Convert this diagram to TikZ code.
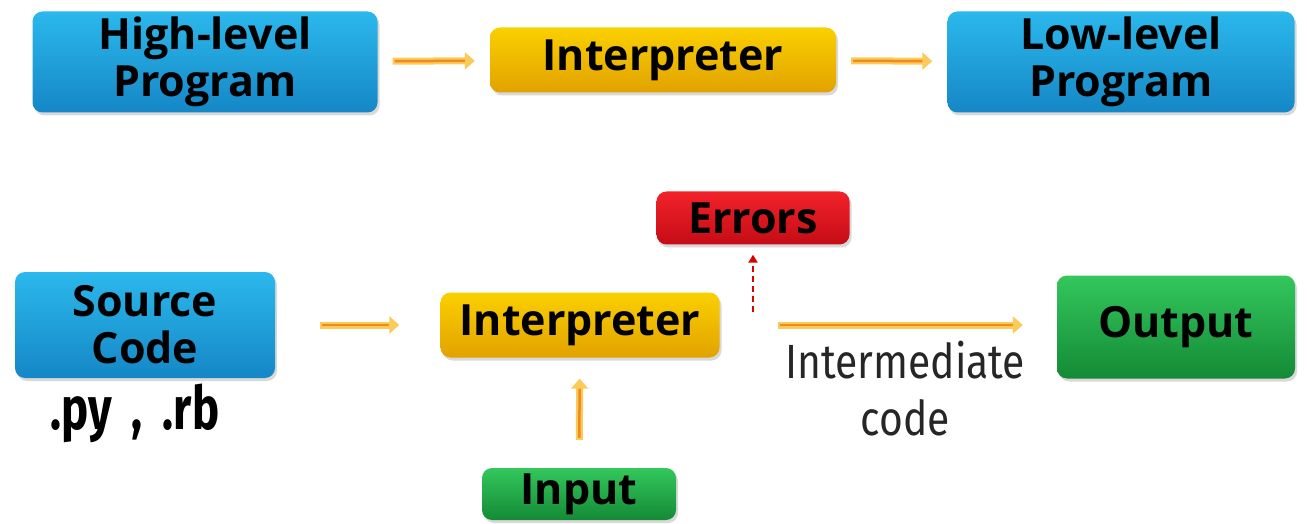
\documentclass[tikz,border=0pt]{standalone}
\usepackage{fontspec}
\setmainfont{Open Sans}
\newfontfamily\narrowfont[FakeStretch=0.85]{Fira Sans}
\newfontfamily\extfont[FakeStretch=0.76]{Fira Sans}
\usetikzlibrary{shadows,arrows.meta}

\definecolor{bluetop}{HTML}{2BB8EC}
\definecolor{bluebot}{HTML}{1587C6}
\definecolor{yeltop}{HTML}{FAD000}
\definecolor{yelbot}{HTML}{E2A200}
\definecolor{redtop}{HTML}{F2222A}
\definecolor{redbot}{HTML}{C50C16}
\definecolor{grntop}{HTML}{33C75C}
\definecolor{grnbot}{HTML}{148A36}
\definecolor{arrowyel}{HTML}{FBCB5A}
\definecolor{arrowor}{HTML}{F08A1C}

\tikzset{
  box/.style={rounded corners=10pt, align=center, inner sep=0pt,
    font=\bfseries\fontsize{43}{47}\selectfont,
    drop shadow={opacity=0.3, shadow xshift=2pt, shadow yshift=-3pt}},
  bluebox/.style={box, top color=bluetop, bottom color=bluebot},
  yelbox/.style={box, top color=yeltop, bottom color=yelbot},
  redbox/.style={box, top color=redtop, bottom color=redbot},
  grnbox/.style={box, top color=grntop, bottom color=grnbot},
  flow/.style 2 args={-{Triangle[length=10pt,width=17pt]}, draw=arrowyel, line width=7pt,
    shorten <=#1, shorten >=#2,
    postaction={draw=arrowor, line width=2.5pt, -, shorten <=#1+2pt, shorten >=#2+10pt}},
  errflow/.style={-{Triangle[length=8pt,width=9pt]}, draw=red!85!black, line width=2.5pt,
    dash pattern=on 6pt off 4pt}
}

\begin{document}
\begin{tikzpicture}[x=1pt,y=1pt]
    \useasboundingbox (0,0) rectangle (1307,523);

    % top row
    \node[bluebox, minimum width=345pt, minimum height=101pt] (hl) at (205,461) {High-level\\Program};
    \node[yelbox, minimum width=346pt, minimum height=65pt] (it1) at (663,463) {Interpreter};
    \node[bluebox, minimum width=347pt, minimum height=101pt] (ll) at (1121,461) {Low-level\\Program};

    \draw[flow={15pt}{15pt}] (hl) -- (it1);
    \draw[flow={15pt}{15pt}] (it1) -- (ll);

    % bottom row
    \node[bluebox, minimum width=260pt, minimum height=106pt] (src) at (145,198) {Source\\Code};
    \node[font=\extfont\bfseries\fontsize{60}{66}\selectfont] (ext) at (135,110) {.py\,\,,\,\,.rb};
    \node[yelbox, minimum width=279pt, minimum height=65pt] (it2) at (580,198) {Interpreter};
    \node[grnbox, minimum width=238pt, minimum height=103pt] (out) at (1176,196) {Output};
    \node[redbox, minimum width=193pt, minimum height=53pt] (err) at (753,305) {Errors};
    \node[grnbox, minimum width=194pt, minimum height=52pt] (in) at (579,29) {Input};
    \coordinate (errsrc) at (753,211);

    \draw[flow={45pt}{41pt}] (src) -- (it2);
    \draw[flow={58pt}{34pt}] (it2.east) -- node[below=9pt, xshift=17pt, text=black!85, align=center,
        font=\narrowfont\fontsize{48}{57}\selectfont] (ic) {Intermediate\\code} (out.west |- it2.east);
    \draw[flow={28pt}{21pt}] (in) -- (it2);
    \draw[errflow, shorten >=10pt] (errsrc) -- (err.south);
\end{tikzpicture}
\end{document}
